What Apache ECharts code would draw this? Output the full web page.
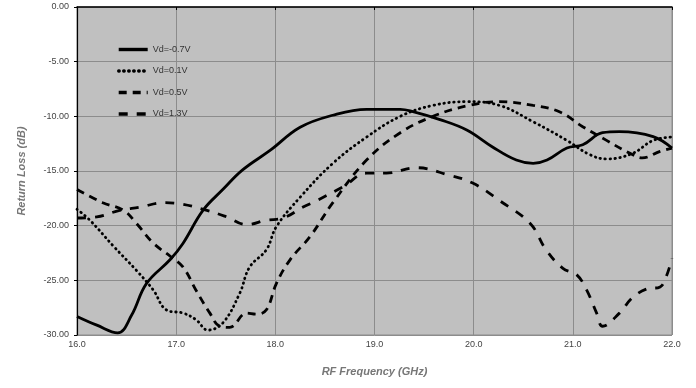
<!DOCTYPE html>
<html>
<head>
<meta charset="utf-8">
<script src="https://cdn.jsdelivr.net/npm/echarts@6/dist/echarts.min.js"></script>
<style>
  html, body { margin: 0; padding: 0; background: #fff; }
  #chart { width: 696px; height: 388px; }
</style>
</head>
<body>
<div id="chart"></div>
<script>
var names = ["Vd=-0.7V", "Vd=0.1V", "Vd=0.5V", "Vd=1.3V"];

var f1 = [16.0, 16.2, 16.41, 16.55, 16.7, 16.94, 17.07, 17.27, 17.47, 17.67, 17.95, 18.25, 18.58, 18.92, 19.26, 19.36, 19.66, 19.93, 20.19, 20.43, 20.6, 20.74, 20.94, 21.1, 21.3, 21.47, 21.81, 22.0];
var v1 = [-28.3, -29.1, -29.8, -28.2, -25.3, -23.1, -21.6, -18.6, -16.7, -14.9, -13.1, -11.0, -9.9, -9.36, -9.36, -9.5, -10.3, -11.25, -12.8, -14.0, -14.3, -14.0, -12.9, -12.6, -11.5, -11.4, -11.85, -12.9];

var f2 = [16.0, 16.13, 16.37, 16.6, 16.77, 16.9, 17.07, 17.2, 17.32, 17.47, 17.64, 17.74, 17.91, 18.01, 18.25, 18.58, 18.92, 19.26, 19.59, 19.93, 20.26, 20.6, 20.94, 21.17, 21.34, 21.6, 21.81, 22.0];
var v2 = [-18.5, -19.5, -21.9, -24.1, -25.9, -27.7, -28.0, -28.6, -29.55, -28.9, -26.2, -23.8, -22.2, -20.1, -17.4, -14.3, -11.9, -10.0, -9.0, -8.66, -9.0, -10.5, -12.2, -13.5, -13.9, -13.4, -12.2, -11.9];

var f3 = [16.0, 16.26, 16.47, 16.6, 16.77, 16.94, 17.07, 17.2, 17.34, 17.44, 17.54, 17.71, 17.81, 17.91, 18.01, 18.15, 18.35, 18.58, 18.92, 19.26, 19.59, 19.93, 20.26, 20.6, 20.87, 21.1, 21.34, 21.6, 21.7, 21.88, 22.0];
var v3 = [-16.7, -17.9, -18.6, -19.8, -21.6, -22.8, -23.8, -25.9, -28.0, -29.2, -29.3, -28.0, -28.1, -27.7, -25.3, -23.1, -21.0, -17.9, -14.0, -11.5, -10.0, -9.05, -8.66, -9.0, -9.6, -10.95, -12.2, -13.5, -13.8, -13.2, -12.9];

var f4 = [16.0, 16.2, 16.43, 16.64, 16.87, 17.04, 17.31, 17.51, 17.71, 17.91, 18.08, 18.28, 18.42, 18.69, 18.92, 19.12, 19.42, 19.76, 19.99, 20.26, 20.57, 20.73, 20.9, 21.04, 21.14, 21.24, 21.3, 21.47, 21.6, 21.74, 21.88, 21.94, 22.0];
var v4 = [-19.3, -19.2, -18.6, -18.3, -17.9, -18.0, -18.6, -19.2, -19.9, -19.5, -19.3, -18.3, -17.7, -16.4, -15.2, -15.2, -14.7, -15.4, -16.1, -17.7, -19.8, -22.2, -23.9, -24.5, -25.9, -28.0, -29.2, -28.0, -26.6, -25.8, -25.6, -24.7, -23.0];

var xTicks = [16, 17, 18, 19, 20, 21, 22];
var yTicks = [0, -5, -10, -15, -20, -25, -30];

function pairs(f, v) {
  var out = [];
  for (var i = 0; i < f.length; i++) out.push([f[i], v[i]]);
  return out;
}

var chart = echarts.init(document.getElementById("chart"));

function line(name, data, type, w, cap) {
  return {
    name: name,
    type: "line",
    smooth: 0.4,
    symbol: "none",
    data: data,
    lineStyle: { color: "#000", width: w, type: type, cap: cap },
    itemStyle: { color: "#000" },
  };
}

chart.setOption({
  animation: false,
  grid: {
    left: 77,
    right: 24,
    top: 7,
    bottom: 53,
    show: true,
    backgroundColor: "#c0c0c0",
    borderColor: "#8c8c8c",
    borderWidth: 1,
  },
  legend: {
    orient: "vertical",
    left: 112,
    top: 40,
    itemWidth: 29,
    itemHeight: 8,
    itemGap: 12.5,
    itemStyle: { opacity: 0 },
    lineStyle: { width: 3.4 },
    textStyle: { fontSize: 9, color: "#333", fontFamily: "Liberation Sans", padding: [0, 0, 0, 0] },
    data: names,
  },
  xAxis: {
    type: "value",
    min: xTicks[0],
    max: xTicks[xTicks.length - 1],
    interval: 1,
    name: "RF Frequency (GHz)",
    nameLocation: "middle",
    nameGap: 31,
    nameTextStyle: { fontStyle: "italic", fontWeight: "bold", fontSize: 11, color: "#777", fontFamily: "Liberation Sans" },
    axisLine: { lineStyle: { color: "#000", width: 1.5 } },
    axisTick: { show: true, inside: false, length: 3, lineStyle: { color: "#000" } },
    axisLabel: { formatter: function (v) { return v.toFixed(1); }, fontSize: 9, color: "#444", margin: 5, fontFamily: "Liberation Sans" },
    splitLine: { show: true, lineStyle: { color: "#8c8c8c", width: 1 } },
  },
  yAxis: {
    type: "value",
    min: yTicks[yTicks.length - 1],
    max: yTicks[0],
    interval: 5,
    name: "Return Loss (dB)",
    nameLocation: "middle",
    nameGap: 50,
    nameTextStyle: { fontStyle: "italic", fontWeight: "bold", fontSize: 11, color: "#777", fontFamily: "Liberation Sans" },
    axisLine: { show: true, lineStyle: { color: "#000", width: 1.2 } },
    axisTick: { show: true, length: 3, lineStyle: { color: "#000" } },
    axisLabel: { formatter: function (v) { return v.toFixed(2); }, fontSize: 9, color: "#444", margin: 8, fontFamily: "Liberation Sans" },
    splitLine: { show: true, lineStyle: { color: "#8c8c8c", width: 1 } },
  },
  series: [
    line(names[0], pairs(f1, v1), "solid", 2.8, "butt"),
    line(names[1], pairs(f2, v2), [0.5, 4.5], 2.8, "round"),
    line(names[2], pairs(f3, v3), [8, 6], 2.8, "butt"),
    line(names[3], pairs(f4, v4), [9, 9], 2.8, "butt"),
  ],
});
</script>
</body>
</html>
